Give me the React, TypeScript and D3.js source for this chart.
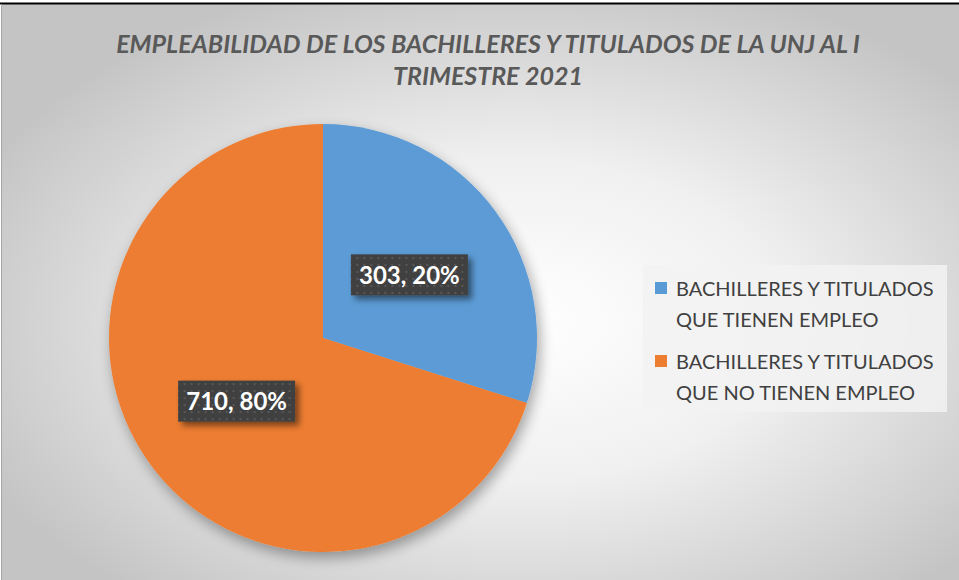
import { useMemo } from 'react'
import * as d3 from 'd3'

const WIDTH = 959
const HEIGHT = 580

const TITLE_LINES = [
  'EMPLEABILIDAD DE LOS BACHILLERES Y TITULADOS DE LA UNJ AL I',
  'TRIMESTRE 2021',
]
const CATEGORIES = [
  ['BACHILLERES Y TITULADOS', 'QUE TIENEN EMPLEO'],
  ['BACHILLERES Y TITULADOS', 'QUE NO TIENEN EMPLEO'],
]
const VALUES = [303, 710]
const PERCENT_LABELS = ['20%', '80%']
const COLORS = ['#5b9bd5', '#ed7d31']

const CX = 323
const CY = 338
const RADIUS = 214

export default function App() {
  const arcs = useMemo(
    () =>
      d3
        .pie<number>()
        .sort(null)
        .value((d) => d)(VALUES),
    []
  )
  const arcGen = d3.arc<d3.PieArcDatum<number>>().innerRadius(0).outerRadius(RADIUS)
  const labelArc = d3
    .arc<d3.PieArcDatum<number>>()
    .innerRadius(RADIUS * 0.5)
    .outerRadius(RADIUS * 0.5)

  return (
    <svg
      width={WIDTH}
      height={HEIGHT}
      style={{ position: 'absolute', left: 0, top: 0, display: 'block' }}
    >
      <defs>
        <radialGradient id="bg" cx="0.54" cy="0.55" r="0.62">
          <stop offset="0" stopColor="#ffffff" />
          <stop offset="0.45" stopColor="#f0f0f0" />
          <stop offset="1" stopColor="#c4c4c4" />
        </radialGradient>
        <filter id="pieShadow" x="-20%" y="-20%" width="140%" height="140%">
          <feGaussianBlur in="SourceAlpha" stdDeviation="7" />
          <feOffset dx="3" dy="6" result="b" />
          <feComponentTransfer>
            <feFuncA type="linear" slope="0.35" />
          </feComponentTransfer>
          <feMerge>
            <feMergeNode />
            <feMergeNode in="SourceGraphic" />
          </feMerge>
        </filter>
        <filter id="boxShadow" x="-20%" y="-30%" width="150%" height="180%">
          <feGaussianBlur in="SourceAlpha" stdDeviation="3" />
          <feOffset dx="4" dy="4" />
          <feComponentTransfer>
            <feFuncA type="linear" slope="0.5" />
          </feComponentTransfer>
          <feMerge>
            <feMergeNode />
            <feMergeNode in="SourceGraphic" />
          </feMerge>
        </filter>
        <pattern id="dots" width="7" height="7" patternUnits="userSpaceOnUse">
          <rect width="7" height="7" fill="#404040" />
          <rect x="3" y="3" width="2" height="2" fill="#595959" />
        </pattern>
      </defs>

      <rect x={0} y={0} width={WIDTH} height={HEIGHT} fill="#ffffff" />
      <rect x={1} y={4} width={WIDTH - 1} height={HEIGHT - 4} fill="url(#bg)" />
      <line x1={0} x2={WIDTH} y1={3.5} y2={3.5} stroke="#000" strokeWidth={2} />
      <line x1={1.5} x2={1.5} y1={4} y2={HEIGHT} stroke="#a6a6a6" strokeWidth={1} />

      {TITLE_LINES.map((t, i) => (
        <text
          key={i}
          x={488}
          y={53 + i * 32}
          textAnchor="middle"
          fontFamily="Lato, 'Open Sans', sans-serif"
          fontStyle="italic"
          fontWeight="bold"
          fontSize={25}
          fill="#595959"
        >
          {t}
        </text>
      ))}

      <g transform={`translate(${CX},${CY})`} filter="url(#pieShadow)">
        {arcs.map((a, i) => (
          <path key={i} d={arcGen(a) ?? ''} fill={COLORS[i]} />
        ))}
      </g>

      <g transform={`translate(${CX},${CY})`}>
        {arcs.map((a, i) => {
          const [lx, ly] = labelArc.centroid(a)
          const w = 117
          const h = 41
          return (
            <g key={i} transform={`translate(${lx},${ly})`}>
              <rect
                x={-w / 2}
                y={-h / 2}
                width={w}
                height={h}
                fill="url(#dots)"
                filter="url(#boxShadow)"
              />
              <text
                x={0}
                y={9}
                textAnchor="middle"
                fontFamily="Lato, 'Open Sans', sans-serif"
                fontWeight="bold"
                fontSize={24}
                fill="#ffffff"
              >
                {`${VALUES[i]}, ${PERCENT_LABELS[i]}`}
              </text>
            </g>
          )
        })}
      </g>

      <rect x={643} y={265} width={304} height={147} fill="#f2f2f2" opacity={0.85} />
      {CATEGORIES.map((lines, i) => (
        <g key={i} transform={`translate(655,${282 + i * 73})`}>
          <rect x={0} y={0} width={12} height={12} fill={COLORS[i]} />
          {lines.map((l, j) => (
            <text
              key={j}
              x={21}
              y={14 + j * 31}
              fontFamily="Lato, 'Open Sans', sans-serif"
              fontSize={20}
              fill="#404040"
            >
              {l}
            </text>
          ))}
        </g>
      ))}
    </svg>
  )
}
